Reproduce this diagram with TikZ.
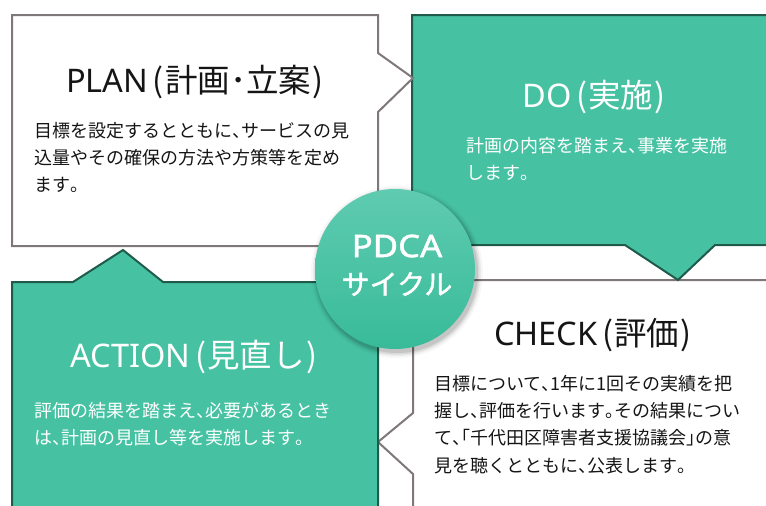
\documentclass[tikz,border=0pt]{standalone}
\usepackage{fontspec}
\setmainfont{Noto Sans CJK JP}
\newfontfamily\lat{Noto Sans}
\newcommand{\hw}[1]{{\addfontfeature{RawFeature=+halt}#1}}
\newcommand{\lp}{\kern0.14em(\kern0.04em}
\newcommand{\rp}{\kern0.04em)}
\definecolor{boxgreen}{HTML}{46C2A3}
\definecolor{darkedge}{HTML}{1F5A4A}
\definecolor{grayedge}{HTML}{7F7878}
\definecolor{inktext}{HTML}{151515}
\definecolor{circtop}{HTML}{5FCBB0}
\definecolor{circbot}{HTML}{38BB99}
\tikzset{
  whitebox/.style={fill=white, draw=grayedge, line width=2pt, line join=miter},
  greenbox/.style={fill=boxgreen, draw=darkedge, line width=2pt, line join=miter},
  titletext/.style={inner sep=0pt, font=\fontsize{32.5}{36}\selectfont},
  bodytext/.style={inner sep=0pt, anchor=north west, align=left, font=\fontsize{18}{27.3}\selectfont},
  circtext/.style={inner sep=0pt, text=white, font=\fontsize{28}{32}\selectfont\addfontfeature{FakeBold=1.5}},
}
\begin{document}
\begin{tikzpicture}[x=1pt, y=-1pt]
\useasboundingbox (0,0) rectangle (766,506);
\clip (0,0) rectangle (766,506);
% CHECK
\draw[whitebox] (413,280) -- (790,280) -- (790,520) -- (413,520) -- (413,474) -- (378,442) -- (413,413) -- cycle;
% DO
\draw[greenbox] (412,15) -- (790,15) -- (790,245) -- (715,245) -- (678,280) -- (625,245) -- (412,245) -- cycle;
% PLAN
\draw[whitebox] (12,15) -- (378,15) -- (378,53) -- (413,78) -- (378,112) -- (378,246) -- (12,246) -- cycle;
% ACTION
\draw[greenbox] (12,282) -- (73,282) -- (123,250) -- (163,282) -- (378,282) -- (378,520) -- (12,520) -- cycle;

% texts
\node[titletext, text=inktext] (plant) at (195,82) {{\lat PLAN}\lp 計画･立案\rp};
\node[bodytext, text=inktext] (planb) at (34,122) {目標を設定するとともに\hw{、}サービスの見\\込量やその確保の方法や方策等を定め\\ます\hw{。}};

\node[titletext, text=white] (dot) at (594,97) {{\lat DO}\lp 実施\rp};
\node[bodytext, text=white] (dob) at (466,137) {計画の内容を踏まえ\hw{、}事業を実施\\します\hw{。}};

\node[titletext, text=inktext] (checkt) at (593,335) {{\lat CHECK}\lp 評価\rp};
\node[bodytext, text=inktext] (checkb) at (434,375) {目標について\hw{、}1年に1回その実績を把\\握し\hw{、}評価を行います\hw{。}その結果につい\\て\hw{、「}千代田区障害者支援協議会\hw{」}の意\\見を聴くとともに\hw{、}公表します\hw{。}};

\node[titletext, text=white] (actiont) at (194,357) {{\lat ACTION}\lp 見直し\rp};
\node[bodytext, text=white] (actionb) at (34,402) {評価の結果を踏まえ\hw{、}必要があるとき\\は\hw{、}計画の見直し等を実施します\hw{。}};

% circle with shadow
\foreach \r/\o in {86/0.03, 84/0.05, 82.5/0.07, 81/0.09}
  \fill[black, opacity=\o] (397,272) circle (\r);
\shade[top color=circtop, bottom color=circbot] (395,269) circle (80);
\node[circtext] (pdca) at (397,246) {{\lat\fontsize{31}{34}\selectfont\addfontfeature{FakeBold=1.5,FakeStretch=1.12}PDCA}};
\node[circtext] (cycle) at (397,284) {サイクル};
\end{tikzpicture}
\end{document}
